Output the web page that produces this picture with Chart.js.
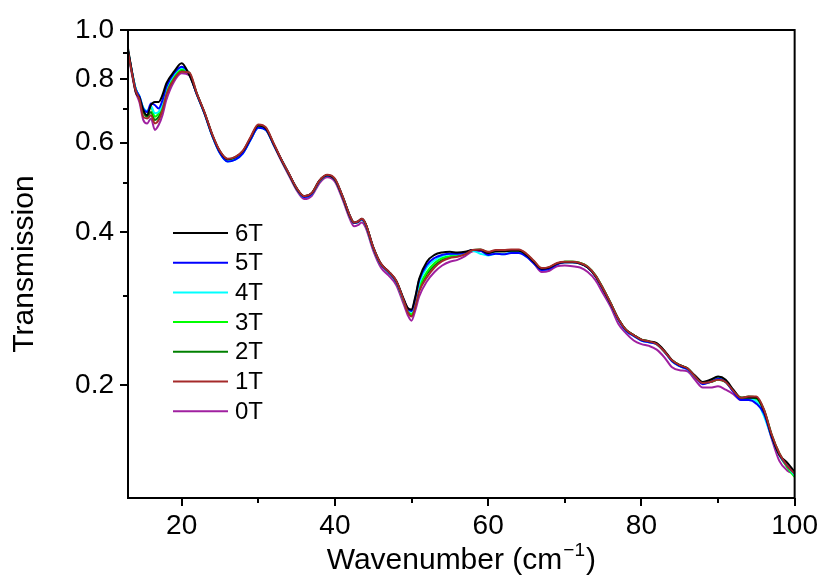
<!DOCTYPE html>
<html>
<head>
<meta charset="utf-8">
<title>Transmission vs wavenumber</title>
<script src="https://cdn.jsdelivr.net/npm/chart.js@4.4.1/dist/chart.umd.min.js"></script>
<style>
    html, body { margin: 0; padding: 0; background: #fff; }
    #wrap { width: 821px; height: 577px; }
</style>
</head>
<body>
<div id="wrap"><canvas id="transChart" width="821" height="577"></canvas></div>
<script>
// Wavenumber grid (cm^-1), shared by every field
const wavenumber = [
    13, 13.5, 14, 14.5, 15, 15.5, 16, 16.5, 17, 17.5, 18, 19, 20, 21,
    22, 23, 24, 25, 26, 27, 28, 29, 30, 31, 32, 33, 34, 35, 36, 37, 38, 39, 40, 41,
    42, 42.5, 43, 43.5, 44, 45, 46, 47, 48, 49,
    49.5, 50, 50.5, 51, 52, 53, 54, 55, 56, 57, 58, 59,
    60, 61, 62, 63, 64, 65, 66, 67, 68, 69, 70, 71, 72, 73, 74, 75, 76, 77, 78, 79, 80,
    81, 82, 83, 84, 85, 86, 87, 88, 89, 90, 91, 92, 93, 94, 95, 96, 97, 98, 99, 100
];

// Transmission for each magnetic field
const trans6T = [
    0.920, 0.830, 0.755, 0.735, 0.695, 0.680, 0.712, 0.722, 0.722, 0.745, 0.785, 0.828, 0.860, 0.815,
    0.748, 0.686, 0.622, 0.577, 0.557, 0.562, 0.578, 0.614, 0.649, 0.640, 0.597, 0.556, 0.521, 0.488, 0.471, 0.478, 0.506, 0.518, 0.508, 0.470,
    0.429, 0.418, 0.420, 0.425, 0.416, 0.374, 0.347, 0.335, 0.321, 0.295,
    0.284, 0.282, 0.299, 0.324, 0.350, 0.361, 0.365, 0.366, 0.365, 0.366, 0.369, 0.369,
    0.364, 0.367, 0.367, 0.368, 0.368, 0.361, 0.349, 0.339, 0.341, 0.347, 0.349, 0.349, 0.347, 0.341, 0.328, 0.309, 0.289, 0.270, 0.257, 0.251, 0.246,
    0.244, 0.242, 0.234, 0.224, 0.219, 0.216, 0.209, 0.203, 0.205, 0.208, 0.205, 0.196, 0.189, 0.189, 0.189, 0.178, 0.159, 0.146, 0.141, 0.135
];
const trans5T = [
    0.910, 0.830, 0.765, 0.740, 0.700, 0.690, 0.717, 0.712, 0.701, 0.728, 0.773, 0.822, 0.847, 0.818,
    0.746, 0.684, 0.619, 0.572, 0.551, 0.556, 0.572, 0.608, 0.642, 0.636, 0.595, 0.556, 0.521, 0.488, 0.469, 0.476, 0.505, 0.517, 0.508, 0.470,
    0.429, 0.417, 0.419, 0.424, 0.415, 0.373, 0.346, 0.334, 0.320, 0.294,
    0.283, 0.280, 0.297, 0.322, 0.345, 0.356, 0.361, 0.363, 0.363, 0.365, 0.369, 0.368,
    0.361, 0.363, 0.362, 0.364, 0.364, 0.358, 0.347, 0.337, 0.339, 0.346, 0.349, 0.349, 0.347, 0.341, 0.328, 0.309, 0.289, 0.269, 0.256, 0.250, 0.245,
    0.243, 0.241, 0.233, 0.223, 0.218, 0.215, 0.208, 0.201, 0.203, 0.206, 0.203, 0.194, 0.187, 0.187, 0.184, 0.176, 0.158, 0.146, 0.139, 0.134
];
const trans4T = [
    0.910, 0.830, 0.767, 0.740, 0.703, 0.692, 0.708, 0.686, 0.690, 0.720, 0.768, 0.818, 0.843, 0.820,
    0.746, 0.684, 0.619, 0.572, 0.551, 0.556, 0.572, 0.608, 0.642, 0.636, 0.595, 0.556, 0.521, 0.488, 0.469, 0.476, 0.505, 0.517, 0.508, 0.470,
    0.429, 0.417, 0.419, 0.424, 0.415, 0.373, 0.346, 0.334, 0.320, 0.293,
    0.282, 0.279, 0.293, 0.317, 0.341, 0.352, 0.359, 0.362, 0.362, 0.364, 0.368, 0.363,
    0.360, 0.363, 0.362, 0.365, 0.365, 0.359, 0.348, 0.338, 0.340, 0.347, 0.349, 0.349, 0.347, 0.341, 0.328, 0.309, 0.289, 0.269, 0.256, 0.250, 0.245,
    0.243, 0.241, 0.233, 0.223, 0.218, 0.215, 0.208, 0.202, 0.204, 0.207, 0.204, 0.195, 0.188, 0.188, 0.186, 0.174, 0.158, 0.146, 0.139, 0.133
];
const trans3T = [
    0.910, 0.830, 0.767, 0.739, 0.701, 0.690, 0.706, 0.675, 0.686, 0.712, 0.762, 0.812, 0.837, 0.822,
    0.747, 0.685, 0.620, 0.574, 0.553, 0.558, 0.574, 0.610, 0.644, 0.637, 0.596, 0.556, 0.521, 0.488, 0.470, 0.477, 0.505, 0.517, 0.508, 0.470,
    0.429, 0.417, 0.419, 0.424, 0.415, 0.373, 0.346, 0.334, 0.320, 0.293,
    0.281, 0.276, 0.291, 0.312, 0.334, 0.348, 0.356, 0.359, 0.361, 0.364, 0.369, 0.369,
    0.365, 0.367, 0.367, 0.368, 0.368, 0.361, 0.350, 0.339, 0.341, 0.347, 0.350, 0.350, 0.348, 0.342, 0.329, 0.310, 0.290, 0.270, 0.257, 0.251, 0.246,
    0.244, 0.241, 0.233, 0.224, 0.219, 0.216, 0.208, 0.202, 0.203, 0.205, 0.203, 0.195, 0.189, 0.189, 0.188, 0.178, 0.159, 0.146, 0.138, 0.132
];
const trans2T = [
    0.910, 0.828, 0.765, 0.735, 0.690, 0.675, 0.690, 0.665, 0.675, 0.703, 0.753, 0.806, 0.834, 0.823,
    0.748, 0.686, 0.621, 0.576, 0.556, 0.561, 0.576, 0.612, 0.646, 0.639, 0.597, 0.556, 0.521, 0.488, 0.470, 0.477, 0.505, 0.517, 0.508, 0.470,
    0.429, 0.417, 0.419, 0.424, 0.415, 0.373, 0.346, 0.334, 0.320, 0.293,
    0.280, 0.275, 0.288, 0.309, 0.331, 0.344, 0.353, 0.358, 0.360, 0.363, 0.369, 0.370,
    0.365, 0.368, 0.368, 0.369, 0.369, 0.362, 0.350, 0.339, 0.341, 0.347, 0.350, 0.350, 0.348, 0.342, 0.329, 0.310, 0.290, 0.270, 0.257, 0.251, 0.246,
    0.244, 0.241, 0.233, 0.224, 0.219, 0.216, 0.208, 0.202, 0.203, 0.205, 0.203, 0.195, 0.189, 0.190, 0.189, 0.179, 0.160, 0.147, 0.139, 0.133
];
const trans1T = [
    0.905, 0.825, 0.760, 0.730, 0.675, 0.670, 0.680, 0.655, 0.665, 0.696, 0.745, 0.800, 0.828, 0.825,
    0.749, 0.688, 0.623, 0.578, 0.558, 0.563, 0.579, 0.616, 0.652, 0.643, 0.599, 0.557, 0.522, 0.489, 0.471, 0.478, 0.506, 0.519, 0.510, 0.471,
    0.430, 0.418, 0.420, 0.425, 0.416, 0.374, 0.347, 0.335, 0.321, 0.293,
    0.279, 0.273, 0.286, 0.306, 0.326, 0.341, 0.351, 0.356, 0.358, 0.362, 0.369, 0.370,
    0.366, 0.369, 0.369, 0.370, 0.370, 0.363, 0.351, 0.340, 0.342, 0.348, 0.350, 0.350, 0.348, 0.342, 0.329, 0.310, 0.290, 0.270, 0.257, 0.251, 0.246,
    0.244, 0.241, 0.233, 0.224, 0.219, 0.216, 0.208, 0.202, 0.203, 0.205, 0.203, 0.195, 0.189, 0.190, 0.190, 0.179, 0.160, 0.147, 0.139, 0.134
];
const trans0T = [
    0.900, 0.820, 0.755, 0.720, 0.665, 0.655, 0.670, 0.636, 0.650, 0.680, 0.728, 0.791, 0.822, 0.815,
    0.745, 0.684, 0.619, 0.574, 0.554, 0.559, 0.574, 0.610, 0.644, 0.636, 0.594, 0.553, 0.517, 0.484, 0.465, 0.472, 0.500, 0.513, 0.503, 0.464,
    0.423, 0.411, 0.413, 0.418, 0.409, 0.368, 0.341, 0.329, 0.315, 0.288,
    0.275, 0.268, 0.281, 0.299, 0.320, 0.334, 0.344, 0.350, 0.353, 0.359, 0.367, 0.368,
    0.363, 0.367, 0.367, 0.368, 0.367, 0.360, 0.347, 0.334, 0.336, 0.343, 0.344, 0.343, 0.341, 0.334, 0.322, 0.303, 0.285, 0.264, 0.253, 0.245, 0.241,
    0.239, 0.235, 0.227, 0.217, 0.214, 0.213, 0.205, 0.198, 0.198, 0.199, 0.196, 0.192, 0.187, 0.188, 0.188, 0.176, 0.157, 0.142, 0.136, 0.134
];

const fieldLabels = ['6T', '5T', '4T', '3T', '2T', '1T', '0T'];
const fieldSeries = [trans6T, trans5T, trans4T, trans3T, trans2T, trans1T, trans0T];
const fieldColors = ['#000000', '#0000ff', '#00ffff', '#00ff00', '#008000', '#a52a2a', '#a020a0'];

// Axis ticks
const yTickValues = [0.2, 0.3, 0.4, 0.5, 0.6, 0.7, 0.8, 0.9, 1.0];
const xTickValues = [20, 30, 40, 50, 60, 70, 80, 90, 100];

const FONT = '"Liberation Sans", Arial, Helvetica, sans-serif';
Chart.defaults.font.family = FONT;
Chart.defaults.color = '#000';

function isMajorY(v) { return Math.round(v * 10) % 2 === 0; }
function isMajorX(v) { return v % 20 === 0; }

// Frame + tick marks (long for labelled, short for the rest)
const framePlugin = {
    id: 'frame',
    afterDraw(chart) {
        const { ctx, chartArea: a, scales } = chart;
        ctx.save();
        ctx.strokeStyle = '#000';
        ctx.lineWidth = 2;
        ctx.beginPath();
        scales.y.ticks.forEach(t => {
            const py = Math.round(scales.y.getPixelForValue(t.value));
            const len = isMajorY(t.value) ? 8 : 5;
            ctx.moveTo(a.left, py);
            ctx.lineTo(a.left - len, py);
        });
        scales.x.ticks.forEach(t => {
            const px = Math.round(scales.x.getPixelForValue(t.value));
            const len = isMajorX(t.value) ? 8 : 5;
            ctx.moveTo(px, a.bottom);
            ctx.lineTo(px, a.bottom + len);
        });
        ctx.stroke();
        ctx.strokeRect(a.left, a.top, a.right - a.left, a.bottom - a.top);
        ctx.restore();
    }
};

// Legend drawn inside the plot, left side
const fieldLegend = {
    id: 'fieldLegend',
    afterDraw(chart) {
        const { ctx } = chart;
        ctx.save();
        ctx.font = '24px ' + FONT;
        ctx.textBaseline = 'middle';
        ctx.textAlign = 'left';
        chart.data.datasets.forEach((ds, i) => {
            const y = 233 + i * 29.7;
            ctx.strokeStyle = ds.borderColor;
            ctx.lineWidth = 2;
            ctx.beginPath();
            ctx.moveTo(173, y);
            ctx.lineTo(228, y);
            ctx.stroke();
            ctx.fillStyle = '#000';
            ctx.fillText(ds.label, 235, y + 1);
        });
        ctx.restore();
    }
};

// x title with a superscript exponent
const xTitle = {
    id: 'xTitle',
    afterDraw(chart) {
        const { ctx, chartArea: a } = chart;
        const main = '30px ' + FONT, sup = '19px ' + FONT;
        const p1 = 'Wavenumber (cm', p2 = '\u22121', p3 = ')';
        ctx.save();
        ctx.fillStyle = '#000';
        ctx.textBaseline = 'alphabetic';
        ctx.font = main;
        const w1 = ctx.measureText(p1).width, w3 = ctx.measureText(p3).width;
        ctx.font = sup;
        const w2 = ctx.measureText(p2).width;
        let x = (a.left + a.right) / 2 - (w1 + w2 + w3 + 2) / 2;
        const base = 569;
        ctx.font = main;
        ctx.fillText(p1, x, base);
        x += w1 + 1;
        ctx.font = sup;
        ctx.fillText(p2, x, base - 13);
        x += w2 + 1;
        ctx.font = main;
        ctx.fillText(p3, x, base);
        ctx.restore();
    }
};

function initTransChart() {
    const canvas = document.getElementById('transChart');
    const datasets = fieldLabels.map((label, i) => ({
        label: label,
        data: wavenumber.map((w, j) => ({ x: w, y: fieldSeries[i][j] })),
        borderColor: fieldColors[i],
        borderWidth: 2,
        pointRadius: 0,
        fill: false,
        cubicInterpolationMode: 'monotone',
        order: label === '1T' ? 0 : 1
    }));

    return new Chart(canvas, {
        type: 'line',
        data: { datasets },
        options: {
            responsive: false,
            animation: false,
            devicePixelRatio: 1,
            layout: { padding: { top: 30, right: 26, left: 0, bottom: 0 } },
            plugins: {
                legend: { display: false },
                tooltip: { enabled: false }
            },
            scales: {
                x: {
                    type: 'linear',
                    min: 13,
                    max: 100,
                    afterBuildTicks: s => { s.ticks = xTickValues.map(v => ({ value: v })); },
                    afterFit: s => { s.height = 79; },
                    grid: { drawOnChartArea: false, drawTicks: true, tickLength: 8, tickColor: 'rgba(0,0,0,0)' },
                    border: { display: false },
                    ticks: {
                        padding: 3,
                        maxRotation: 0,
                        autoSkip: false,
                        font: { size: 28 },
                        callback: v => isMajorX(v) ? String(v) : ''
                    }
                },
                y: {
                    type: 'logarithmic',
                    min: 0.12,
                    max: 1.0,
                    afterBuildTicks: s => { s.ticks = yTickValues.map(v => ({ value: v })); },
                    afterFit: s => { s.width = 128; },
                    grid: { drawOnChartArea: false, drawTicks: true, tickLength: 8, tickColor: 'rgba(0,0,0,0)' },
                    border: { display: false },
                    title: {
                        display: true,
                        text: 'Transmission',
                        font: { size: 30 },
                        padding: { top: 7, bottom: 0 }
                    },
                    ticks: {
                        padding: 6,
                        autoSkip: false,
                        font: { size: 28 },
                        callback: v => isMajorY(v) ? v.toFixed(1) : ''
                    }
                }
            }
        },
        plugins: [framePlugin, fieldLegend, xTitle]
    });
}

initTransChart();
</script>
</body>
</html>
